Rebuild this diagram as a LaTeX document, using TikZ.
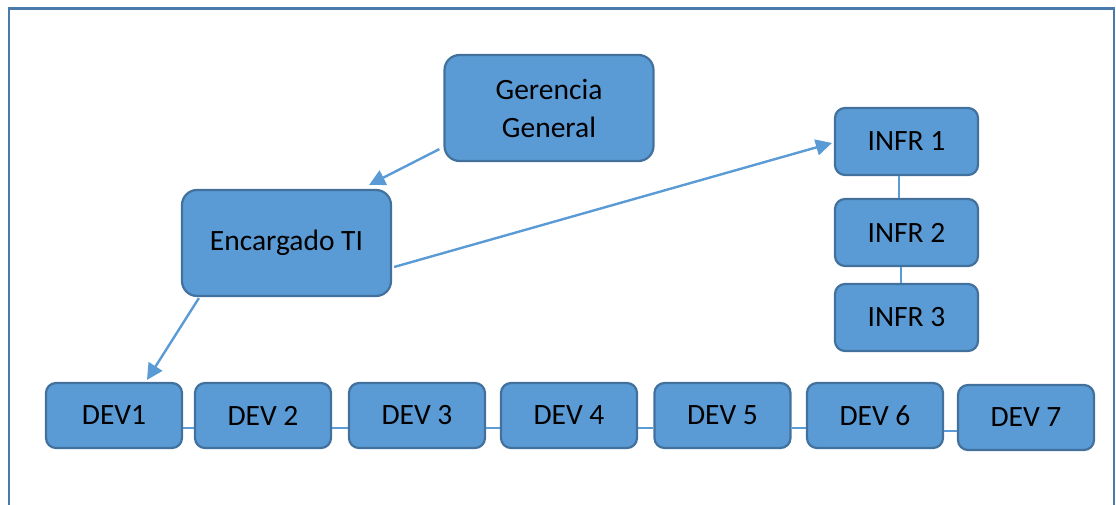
\documentclass[tikz,border=0pt]{standalone}
\usepackage{fontspec}
\setmainfont{Carlito}
\usetikzlibrary{arrows.meta,calc}
\definecolor{boxfill}{HTML}{5B9BD5}
\definecolor{boxline}{HTML}{41719C}
\definecolor{frameline}{HTML}{4A7AAB}
\definecolor{conn}{HTML}{5B9BD5}
\tikzset{
  orgbox/.style={rectangle, rounded corners=10pt, draw=boxline, line width=2.2pt, fill=boxfill,
    text=black, font=\fontsize{29.5}{38}\selectfont, align=center, inner sep=0pt},
  bigbox/.style={orgbox, rounded corners=15pt, minimum width=209pt, minimum height=106pt},
  infrbox/.style={orgbox, minimum width=143pt, minimum height=67pt},
  devbox/.style={orgbox, minimum width=136pt, minimum height=65pt},
  arrowconn/.style={draw=conn, line width=2.4pt, -{Triangle[length=16pt,width=16pt]}},
  thinconn/.style={draw=conn, line width=1.6pt},
}
\begin{document}
\begin{tikzpicture}[x=1pt,y=-1pt]
\useasboundingbox (0,0) rectangle (1116,505);
\draw[frameline, line width=2.6pt] (9,506) -- (9,8.5) -- (1114,8.5) -- (1114,506);

\node[bigbox] (ger) at (549,108) {Gerencia\\General};
\node[bigbox] (enc) at (286.5,243) {Encargado TI};

\node[infrbox] (i1) at (906.5,141.5) {INFR 1};
\node[infrbox] (i2) at (906.5,232.5) {INFR 2};
\node[infrbox] (i3) at (906.5,317.5) {INFR 3};

\node[devbox] (d1) at (114,415.5) {DEV1};
\node[devbox] (d2) at (263,415.5) {DEV 2};
\node[devbox] (d3) at (417,415.5) {DEV 3};
\node[devbox] (d4) at (569,415.5) {DEV 4};
\node[devbox] (d5) at (722.5,415.5) {DEV 5};
\node[devbox] (d6) at (875,415.5) {DEV 6};
\node[devbox] (d7) at (1026,417.5) {DEV 7};

% thin connectors
\draw[thinconn] ([xshift=-7.5pt]i1.south) -- ([xshift=-7.5pt]i2.north);
\draw[thinconn] ([xshift=-5.5pt]i2.south) -- ([xshift=-5.5pt]i3.north);
\draw[thinconn] ([yshift=-12.5pt]d1.east) -- ([yshift=-12.5pt]d2.west);
\draw[thinconn] ([yshift=-12.5pt]d2.east) -- ([yshift=-12.5pt]d3.west);
\draw[thinconn] ([yshift=-12.5pt]d3.east) -- ([yshift=-12.5pt]d4.west);
\draw[thinconn] ([yshift=-12.5pt]d4.east) -- ([yshift=-12.5pt]d5.west);
\draw[thinconn] ([yshift=-12.5pt]d5.east) -- ([yshift=-12.5pt]d6.west);
\draw[thinconn] ([yshift=-15.5pt]d6.east) -- ([yshift=-13.5pt]d7.west);

% arrows
\draw[arrowconn] ([shift={(-4,-13)}]ger.south west) -- ([shift={(-23,-4)}]enc.north east);
\draw[arrowconn] ([shift={(2,24)}]enc.east) -- ([shift={(-2,1.5)}]i1.west);
\draw[arrowconn] ([shift={(18,1)}]enc.south west) -- ([shift={(33,-2)}]d1.north);
\end{tikzpicture}
\end{document}
